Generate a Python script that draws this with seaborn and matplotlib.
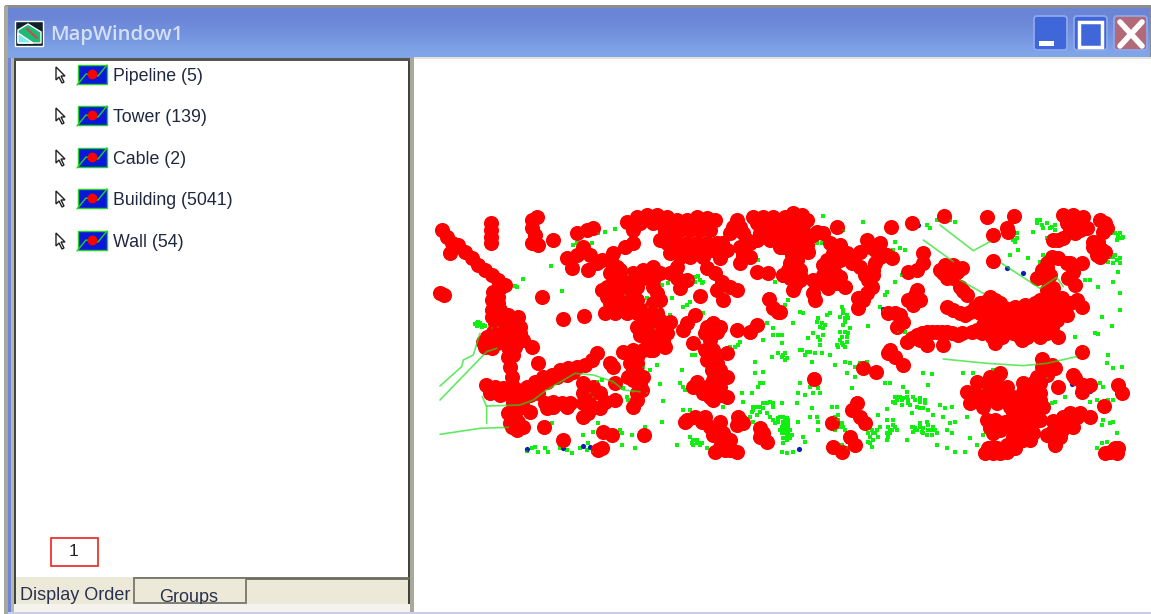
import numpy as np
import pandas as pd
import matplotlib
matplotlib.use("Agg")
import matplotlib.pyplot as plt
from matplotlib.patches import Rectangle, FancyBboxPatch, Polygon
import seaborn as sns

# layer list in the left panel
layer_names = ["Pipeline (5)", "Tower (139)", "Cable (2)", "Building (5041)", "Wall (54)"]
tab_names = ["Display Order", "Groups"]
window_title = "MapWindow1"
page_number = "1"

# map values are in map units, the right sheet is shifted by right_shift
right_shift = 1080

tower_left = [(65,90),(80,110),(95,130),(115,135),(90,160),(135,155),(155,175),(175,195),(195,210),(215,225),(235,240),(255,255),
 (220,275),(235,290),(215,300),(235,310),(215,330),(240,345),(215,350),(265,345),(295,350),(270,375),(300,380),(250,390),(290,405),
 (260,410),(200,410),(220,395),(195,440),(230,430),(265,440),(310,420),(335,440),(265,470),(270,500),(275,530),(275,555),
 (60,280),(72,285),(212,70),(212,90),(212,110),(212,128),(350,50),(335,60),(335,85),(345,105),(335,130),(355,135),(398,120),
 (365,292),(430,358),(492,347),(355,490),(373,682),(430,720),
 (198,555),(225,560),(250,565),(210,580),(240,585),(270,585),(295,570),(320,560),(345,545),(370,530),(395,525),(420,510),(445,505),
 (470,500),(495,495),(515,480),(530,458),(300,590),(330,585),(355,580),(280,610),(265,640),(310,620),(330,635),(270,670),(310,680),
 (285,650),(275,680),(375,610),(400,620),(425,610),(450,608),(490,550),(490,580),(520,560),(540,580),(490,610),(520,620),(540,625),
 (490,650),(585,550),(585,600),(570,490),(580,500),(610,455),(650,600),(640,620),(650,470),(630,490),(650,515),(660,550),(625,530),
 (665,570),(690,450),(720,430),(735,440),(700,410),(550,695),(575,705),(672,705),(535,750),(545,745),
 (470,100),(500,90),(520,85),(490,140),(440,175),(470,165),(455,205),(505,210),(530,190),(545,180),(510,165),
 (620,65),(650,50),(680,45),(710,45),(740,50),(770,60),(800,60),(830,50),(860,55),(885,60),(640,90),(640,130),(615,140),(720,120),
 (750,100),(780,90),(810,90),(840,90),(870,90),(740,130),(770,130),(800,130),(830,130),(860,130),(890,130),(920,150),(900,175),
 (750,160),(780,170),(810,170),(850,170),(580,160),(575,190),(570,220),(590,240),(560,260),(545,270),(580,280),(620,250),(600,210),
 (640,220),(670,210),(700,200),(720,220),(700,240),(650,260),(710,280),(700,310),(570,310),(600,320),(620,310),(640,320),(555,340),
 (585,340),(620,340),(650,340),(680,350),(670,375),(695,340),(720,360),(750,365),(660,405),(690,400),(720,400),(730,420),(770,235),
 (800,240),(780,265),(860,205),(885,220),(905,245),(930,260),(910,300),(890,270),(950,270),(840,288),
 (825,345),(800,370),(790,390),(880,370),(890,395),(855,400),(870,420),(820,430),(855,450),(880,450),(920,460),(860,480),(890,490),
 (900,510),(920,530),(880,540),(830,545),(820,560),(900,560),(850,580),(880,600),(920,590),(950,390),(990,395),(1010,375),(1048,298),
 (1060,325),(1075,335),(795,665),(825,650),(855,650),(870,680),(900,665),(880,705),(955,650),(950,675),(970,670),(1020,685),(1040,725),
 (1020,710),(885,755),(915,730),(950,755),(915,750),(950,60),(930,100),(970,100),(1000,50),(1030,50),(1060,50),(1090,60),(960,140),
 (990,130),(1020,100),(1050,90),(1080,140),(1100,120),(960,190),(990,170),(1010,215),(1045,220),(1090,225),
 # dense parts of the clusters
 (660,70),(700,70),(730,75),(760,80),(790,75),(820,70),(850,75),(735,95),(755,140),(785,150),(815,150),(845,150),(875,150),(905,130),
 (770,200),(750,220),(590,200),(585,225),(610,235),(640,240),(670,235),(560,290),(590,300),(620,290),(650,300),(600,270),(630,270),
 (700,260),(720,300),(680,330),(710,340),(740,400),(700,380),(680,420),(650,380),
 (240,265),(240,330),(225,370),(255,360),(280,360),(240,410),(275,420),(300,400),(220,420),(205,420),(190,425),(285,440),(280,465),(215,445),
 (350,560),(380,545),(410,530),(440,525),(460,515),(220,570),(260,575),(285,590),(285,630),(295,665),(290,690),
 (400,605),(440,620),(380,625),(505,600),(505,640),(505,570),(555,605),
 (650,490),(640,540),(640,510),(670,530),(650,580),(640,450),(670,450),(705,430),(700,450),
 (940,80),(960,80),(1010,70),(1040,70),(1070,70),(1090,90),(980,120),(1010,120),(1050,120),(970,165),(1100,90),(1075,110),
 (860,380),(900,380),(870,440),(880,470),(875,510),(905,530),(860,560),(840,565),(870,590),(900,585),
 (800,660),(845,665),(885,690),(910,700),(930,720),(960,660),(1030,700),(900,740),(930,750)]

tower_right = [(20,60),(50,55),(80,60),(30,85),(60,85),(130,100),(100,105),(70,120),(50,130),(80,135),(10,140),(85,155),(50,180),(30,190),
 (60,210),(10,225),(30,235),(60,240),(40,270),(105,300),(0,335),(170,80),(333,80),(395,68),(492,47),(620,52),(703,47),(680,85),(640,105),
 (685,95),(130,195),(180,135),(160,160),(200,160),(240,155),(215,190),(240,200),(150,200),(145,240),(105,245),(125,250),(170,250),(195,260),
 (260,120),(300,130),(300,170),(335,175),(280,210),(265,240),(260,280),(235,295),(235,325),(280,225),(430,160),(430,190),(410,210),(385,215),
 (505,215),(490,220),(530,215),(520,235),(480,210),(550,272),(405,285),(400,315),(325,340),(360,345),(350,380),(380,425),(410,405),(440,395),
 (470,395),(500,395),(535,405),(440,435),(490,435),(330,450),(325,460),(345,470),(370,495),(250,505),(287,515),(103,537),(230,610),(215,630),
 (240,650),(255,670),(155,670),(210,710),(225,735),(160,740),(185,755),(500,322),(540,340),(570,335),(600,310),(630,290),(600,340),(660,310),
 (690,330),(720,330),(750,330),(780,300),(810,280),(820,265),(840,320),(870,310),(905,320),(640,340),(590,390),(620,395),(650,370),(680,360),
 (710,370),(740,370),(770,360),(800,350),(830,360),(650,400),(680,395),(720,410),(750,395),(780,410),(835,412),(645,430),(725,420),(770,235),
 (800,205),(815,170),(860,190),(905,190),(865,235),(885,255),(640,183),(850,45),(880,45),(910,50),(860,70),(890,75),(920,85),(820,120),(850,115),
 (885,100),(960,60),(980,85),(970,95),(940,140),(965,150),(960,170),(905,457),(785,478),(825,505),(800,510),(770,530),(880,525),(835,562),
 (910,555),(915,560),(1015,555),(1025,578),(972,617),(650,530),(620,550),(590,545),(560,575),(590,580),(630,590),(660,580),(680,560),(570,610),
 (610,620),(650,610),(690,620),(720,590),(750,570),(780,550),(730,550),(760,610),(770,640),(745,650),(700,640),(645,660),(630,685),(660,690),
 (690,680),(720,670),(750,690),(780,660),(820,662),(700,710),(730,720),(760,700),(625,745),(650,745),(680,755),(705,745),(870,640),(860,670),
 (890,650),(930,650),(820,715),(840,710),(990,755),(1015,745),
 # dense parts of the clusters
 (15,50),(40,40),(65,45),(15,75),(45,70),(70,75),(110,95),(60,105),(35,115),(25,140),(60,155),(35,165),(25,210),(45,205),(35,225),(60,225),
 (45,255),(100,280),(150,130),(170,150),(180,180),(220,170),(140,180),(165,220),(130,225),(100,240),(145,265),(180,230),(255,225),(275,260),
 (250,300),(285,190),(320,165),(285,150),(270,140),(495,195),(520,195),(545,205),(500,235),(540,260),(560,285),(410,270),(420,300),(385,300),
 (345,340),(370,365),(395,415),(425,400),(455,395),(485,395),(515,400),(545,400),(420,420),
 (520,330),(555,345),(585,320),(615,305),(645,300),(630,320),(675,325),(705,320),(735,315),(765,310),(790,320),(815,300),(845,295),(800,270),
 (890,300),(620,350),(660,345),(690,345),(725,345),(760,350),(790,340),(820,340),(850,340),(610,375),(635,380),(665,380),(695,385),(725,385),
 (755,380),(785,385),(815,380),(575,395),(605,400),(635,410),(665,410),(700,400),(740,410),(765,400),(800,400),(815,375),(860,345),
 (790,230),(810,225),(880,215),(870,190),(835,175),(800,190),(785,210),(870,90),(900,90),(835,120),(900,60),(870,55),(940,125),(950,165),
 (975,155),(955,125),(975,70),(630,530),(660,520),(600,560),(640,560),(670,570),(600,600),(640,590),(580,600),(620,600),(670,600),(700,590),
 (730,575),(760,550),(800,525),(815,495),(785,500),(700,600),(740,620),(720,640),(750,620),(780,600),(790,620),(780,580),(725,610),(620,660),
 (650,680),(640,700),(675,665),(700,660),(730,690),(700,690),(730,650),(760,670),(770,620),(720,710),(750,720),(705,725),(680,735),(640,740),
 (615,760),(640,760),(660,760),(800,705),(825,735),(815,695),(845,690),(880,680),(900,640),(880,660),(850,650),(885,535),(930,555),(905,575),
 (1005,745),(975,760),(1010,760)]

building_left = [(290,262),(285,258),(310,238),(425,273),(392,198),(555,95),(585,88),(460,135),(470,130),(515,128),(535,100),(625,225),(615,285),
 (680,295),(685,320),(715,325),(750,345),(705,388),(725,255),(745,250),(755,295),(800,315),(790,322),(810,305),(825,232),(840,240),(850,245),
 (825,245),(850,340),(1015,180),(1065,245),(1105,300),(1095,315),(170,370),(180,375),(190,375),(175,365),(185,380),(215,385),(235,380),
 (1040,370),(1060,385),(1060,405),(1075,405),(1030,420),(1085,430),(1055,470),(1075,460),(1090,465),(1100,475),(1005,485),(1030,515),(1005,520),
 (960,425),(955,435),(945,440),(930,440),(785,510),(815,465),(825,465),(780,550),(790,560),(795,570),(720,553),(730,603),(670,500),(690,510),
 (710,495),(910,620),(1020,550),(1015,560),(1030,550),(965,578),(995,578),(970,607),(1040,610),(1050,605),(1020,620),(1000,630),(1030,625),
 (1060,620),(1085,610),(1090,665),(1075,655),(1100,655),(1095,680),(1095,700),(1100,720),(1060,660),(990,650),(1000,665),(1010,645),(810,630),
 (790,630),(820,720),(830,730),(840,735),(810,710),(820,735),(770,735),(860,745),(725,665),(535,668),(395,668),(520,695),(600,690),(605,700),
 (635,705),(675,680),(605,735),(645,745),(490,705),(320,752),(335,745),(345,740),(355,755),(375,745),(385,755),(420,745),(440,750),(455,760),
 (480,745),(500,750),(520,755),(505,730),(530,545),(545,540),(575,550),(620,590),(640,575),(680,580),(625,600),(510,580),(520,590),(610,565),
 (1090,650),(1105,660),(1100,670),(1085,680),(1105,680),(1090,690),(1105,690),(1085,700),(1105,705),(1090,715),(1105,715),(1040,640),(1020,635),
 (1030,610),(1060,610),(1000,620),(1010,620),(1075,665),(1065,670),(1050,650),(995,635),(830,720),(815,730),(835,728),(845,730),(170,378),
 (165,372),(180,368),(195,378),(835,228),(815,240),(845,250)]

building_right = [(130,48),(250,65),(190,90),(125,128),(110,130),(345,125),(360,145),(340,150),(375,150),(450,85),(440,75),(510,60),(525,65),(470,60),
 (770,60),(785,75),(800,70),(810,85),(825,90),(760,95),(710,115),(700,120),(800,115),(690,165),(715,150),(745,175),(780,185),(790,165),
 (1000,100),(1015,105),(1025,115),(1010,120),(990,170),(1005,165),(1020,175),(1000,190),(985,185),(1015,215),(930,240),(915,240),(955,260),
 (1000,245),(1020,280),(1020,330),(965,350),(995,378),(885,410),(945,400),(955,403),(915,445),(985,465),(980,490),(1025,500),(1000,505),
 (365,225),(345,245),(320,275),(315,285),(310,330),(300,320),(375,395),(355,395),(60,335),(70,340),(115,355),(125,370),(130,385),(140,345),
 (150,340),(265,377),(185,320),(190,340),(195,355),(205,355),(190,375),(210,385),(185,410),(200,410),(185,430),(170,435),(195,440),(100,400),
 (85,415),(120,420),(120,435),(65,450),(90,455),(105,460),(125,460),(150,465),(5,405),(40,370),(15,460),(5,470),(15,480),(75,465),(95,485),
 (165,495),(195,487),(210,490),(225,500),(240,490),(260,485),(200,520),(225,530),(315,550),(330,550),(370,560),(380,575),(215,563),(430,520),
 (455,523),(445,555),(60,550),(90,560),(115,565),(55,580),(75,585),(100,580),(120,580),(345,590),(360,590),(380,590),(400,590),(420,595),
 (435,600),(345,610),(365,615),(385,610),(410,620),(430,625),(445,630),(395,640),(480,615),(495,625),(515,620),(460,645),(5,610),(50,610),
 (95,625),(155,622),(170,622),(320,628),(10,650),(20,660),(5,680),(15,690),(25,700),(10,715),(35,705),(55,665),(90,650),(110,650),(115,665),
 (115,690),(70,710),(75,725),(165,650),(175,660),(185,670),(195,690),(295,645),(320,660),(340,675),(350,690),(330,700),(320,720),(280,700),
 (290,690),(270,710),(265,725),(275,740),(300,680),(400,680),(420,670),(440,665),(460,680),(470,700),(430,700),(410,690),(445,690),(490,650),
 (510,670),(500,690),(515,700),(525,665),(380,720),(470,735),(500,745),(525,755),(570,715),(590,735),(555,755),(20,760),(40,755),(5,755),
 (605,567),(825,605),(815,610),(855,590),(950,600),(985,600),(930,605),(1000,600),(970,660),(990,670),(1000,665),(965,675),(1010,700),(965,730),
 (980,725),(950,745),(970,560),(960,550),(550,520),(580,520),(560,650),(610,705),(640,510),(800,535),
 (190,330),(200,345),(180,350),(195,365),(180,395),(195,395),(205,400),(180,420),(200,425),(190,435),(175,440),(110,365),(120,380),(135,375),
 (130,405),(115,410),(60,450),(80,455),(350,600),(365,600),(385,600),(405,600),(420,605),(435,610),(350,590),(370,595),(390,615),(420,625),
 (340,605),(0,650),(15,655),(25,670),(10,670),(20,680),(30,690),(5,700),(20,710),(30,715),(0,690),(15,700),(10,730),(275,690),(285,700),
 (295,710),(265,700),(280,720),(270,730),(325,680),(335,690),(345,680),(330,690),(320,700),(325,710),(340,660),(395,680),(405,685),(420,680),
 (430,685),(445,675),(455,690),(465,690),(425,695),(440,705),(455,705),(400,695),(175,645),(170,660),(180,680),(190,680),(165,690),(200,745),
 (185,735),(770,70),(790,85),(815,80),(825,75),(780,60),(1000,170),(1010,180),(1020,190),(1005,100),(1020,100),(1030,110),(1015,115),(710,100),(705,125)]

wall_left = [(322,747),(430,743),(490,738),(510,742),(207,432)]
wall_right = [(415,75),(682,205),(728,218),(875,552),(900,573),(930,573),(58,748),(310,328)]

# long line features: each one is its own list of vertices
cable_left = [
 [(60,558),(125,500),(130,480),(160,465),(180,400)],
 [(60,600),(200,455),(230,445)],
 [(60,703),(180,685),(265,682)],
 [(187,590),(200,620),(200,670)],
 [(200,618),(300,615),(340,600),(380,570),(465,520),(520,525),(580,545),(610,570),(660,575)],
]
cable_right = [
 [(480,75),(580,152),(630,125)],
 [(430,120),(520,185)],
 [(540,240),(610,280)],
 [(490,477),(620,490),(730,497),(800,490),(890,470)],
 [(665,190),(780,265),(830,232),(850,260)],
]


def to_frame(left, right):
    rows = [(x, y) for x, y in left] + [(x + right_shift, y) for x, y in right]
    return pd.DataFrame(rows, columns=["x", "y"])


towers = to_frame(tower_left, tower_right)
buildings = to_frame(building_left, building_right)
walls = to_frame(wall_left, wall_right)

line_rows = []
for i, part in enumerate(cable_left):
    line_rows += [(i, x, y) for x, y in part]
for i, part in enumerate(cable_right):
    line_rows += [(i + 100, x + right_shift, y) for x, y in part]
cables = pd.DataFrame(line_rows, columns=["part", "x", "y"])

sns.set_theme(style="white")
plt.rcParams["font.family"] = ["Liberation Sans", "DejaVu Sans"]

W, H = 1151, 614
fig = plt.figure(figsize=(W / 100, H / 100), dpi=100)

# window chrome in picture pixels
ui = fig.add_axes([0, 0, 1, 1])
ui.set_xlim(0, W)
ui.set_ylim(H, 0)
ui.axis("off")


def box(x0, y0, x1, y1, color, z=1, **kw):
    ui.add_patch(Rectangle((x0, y0), x1 - x0, y1 - y0, facecolor=color, edgecolor=kw.pop("edge", "none"), zorder=z, **kw))


box(5, 5, 1151, 58, "#8a8c92")
box(4, 6, 8, 614, "#a8a89c")
grad = np.array([[0.0], [0.25], [0.6], [1.0]])
cm = matplotlib.colors.LinearSegmentedColormap.from_list("bar", ["#6a84d6", "#7fa4e8"])
ui.imshow(grad, extent=(8, 1150, 58, 8), aspect="auto", cmap=cm, zorder=2, interpolation="bilinear")
ui.set_xlim(0, W)
ui.set_ylim(H, 0)
box(8, 58, 14, 612, "#6f84dc", z=3)
box(11, 58, 14, 612, "#b9b8a8", z=3)
box(14, 58, 414, 61, "#55554f", z=3)
box(414, 57, 1151, 59, "#e4e3d8", z=3)
box(15, 61, 409, 578, "white", z=3)
box(14, 61, 16, 608, "#44443f", z=4)
box(408, 61, 410, 608, "#44443f", z=4)
box(410, 58, 414, 612, "#a9a99a", z=4)
box(16, 578, 408, 606, "#ece9d8", z=4)

# title bar
ui.add_patch(Rectangle((15, 21), 28, 25, facecolor="#10202a", zorder=5))
ui.add_patch(Polygon([(18, 30), (28, 24), (41, 32), (41, 43), (18, 43)], facecolor="#1fb874", zorder=6))
ui.add_patch(Polygon([(18, 33), (33, 43), (18, 43)], facecolor="#7fe8e8", zorder=7))
ui.plot([27, 37], [29, 38], color="#c05050", lw=1.5, zorder=8)
ui.text(50, 35, window_title, color="#d5dff5", fontsize=14.6, fontweight="semibold", family=["Open Sans", "DejaVu Sans"], va="center", zorder=6)

for x0, x1, col in [(1033, 1068, "#3f67d9"), (1073, 1108, "#3f67d9"), (1113, 1148, "#b26a78")]:
    ui.add_patch(FancyBboxPatch((x0 + 1, 16), x1 - x0 - 2, 34, boxstyle="round,pad=0,rounding_size=3",
                                facecolor=col, edgecolor="#8fa8ea", lw=1.3, zorder=5))
box(1039, 41, 1054, 46, "white", z=6)
ui.add_patch(Rectangle((1079, 22), 23, 25, facecolor="none", edgecolor="white", lw=2.5, zorder=6))
ui.plot([1120, 1142], [22, 46], color="white", lw=4, zorder=6)
ui.plot([1142, 1120], [22, 46], color="white", lw=4, zorder=6)

# layer rows
row_y = [75, 116, 158, 199, 241]
for name, y in zip(layer_names, row_y):
    ui.add_patch(Polygon([(56, y - 8), (56, y + 5), (59, y + 2), (62, y + 8), (64, y + 7), (61, y + 1), (65, y + 1)],
                         facecolor="white", edgecolor="#222222", lw=1, zorder=6))
    ui.add_patch(Rectangle((78, y - 10), 29, 19, facecolor="#0718d8", edgecolor="#25d025", lw=1, zorder=6))
    ui.plot([77, 86, 98, 107], [y + 10, y - 1, y + 1, y - 10], color="#25d025", lw=1, zorder=7)
    ui.scatter([92], [y - 1], s=50, color="#ff0000", linewidths=0, zorder=8)
    ui.text(113, y + 1.5, name, fontsize=12.75, color="#202840", va="center", zorder=6)

# bottom page box and tabs
ui.add_patch(Rectangle((51, 538), 47, 28, facecolor="white", edgecolor="#ee2020", lw=1.2, zorder=6))
ui.text(74, 552, page_number, fontsize=12.5, color="#222222", ha="center", va="center", zorder=7)
box(16, 577, 133, 580, "#ece9d8", z=5)
ui.plot([134, 408], [578, 578], color="#6b6b60", lw=2, zorder=5)
ui.add_patch(Rectangle((134, 578), 112, 25, facecolor="#ece9d8", edgecolor="#77776b", lw=1.3, zorder=5))
ui.text(20, 596, tab_names[0], fontsize=13, color="#2a3050", va="center", zorder=6)
ui.text(189, 598, tab_names[1], fontsize=13, color="#2a3050", ha="center", va="center", zorder=6)
box(14, 604, 410, 612, "#f4f3ee", z=7)
box(8, 612, 1151, 614, "#c9cdec", z=7)

# map, in map units: one pixel is three units
mp = fig.add_axes([414 / W, 1 - 612 / H, (W - 414) / W, (612 - 60) / H])
mp.patch.set_alpha(0)
mp.set_zorder(5)
sns.scatterplot(data=buildings, x="x", y="y", color="#10f010", marker="s", s=5, linewidth=0, ax=mp, zorder=2)
sns.scatterplot(data=walls, x="x", y="y", color="#0a20b0", marker="o", s=14, linewidth=0, ax=mp, zorder=3)
sns.scatterplot(data=towers, x="x", y="y", color="#ff0000", marker="o", s=118, linewidth=0, ax=mp, zorder=4)
sns.scatterplot(data=buildings, x="x", y="y", color="#10f010", marker="s", s=4, linewidth=0, alpha=0.3, ax=mp, zorder=5)
sns.lineplot(data=cables, x="x", y="y", units="part", estimator=None, sort=False, color="#20e020", lw=1.2, alpha=0.7,
             legend=False, ax=mp, zorder=6)
mp.set_xlim(-18, 2193)
mp.set_ylim(1236, -420)
mp.axis("off")

fig.savefig("out.png", dpi=100)
